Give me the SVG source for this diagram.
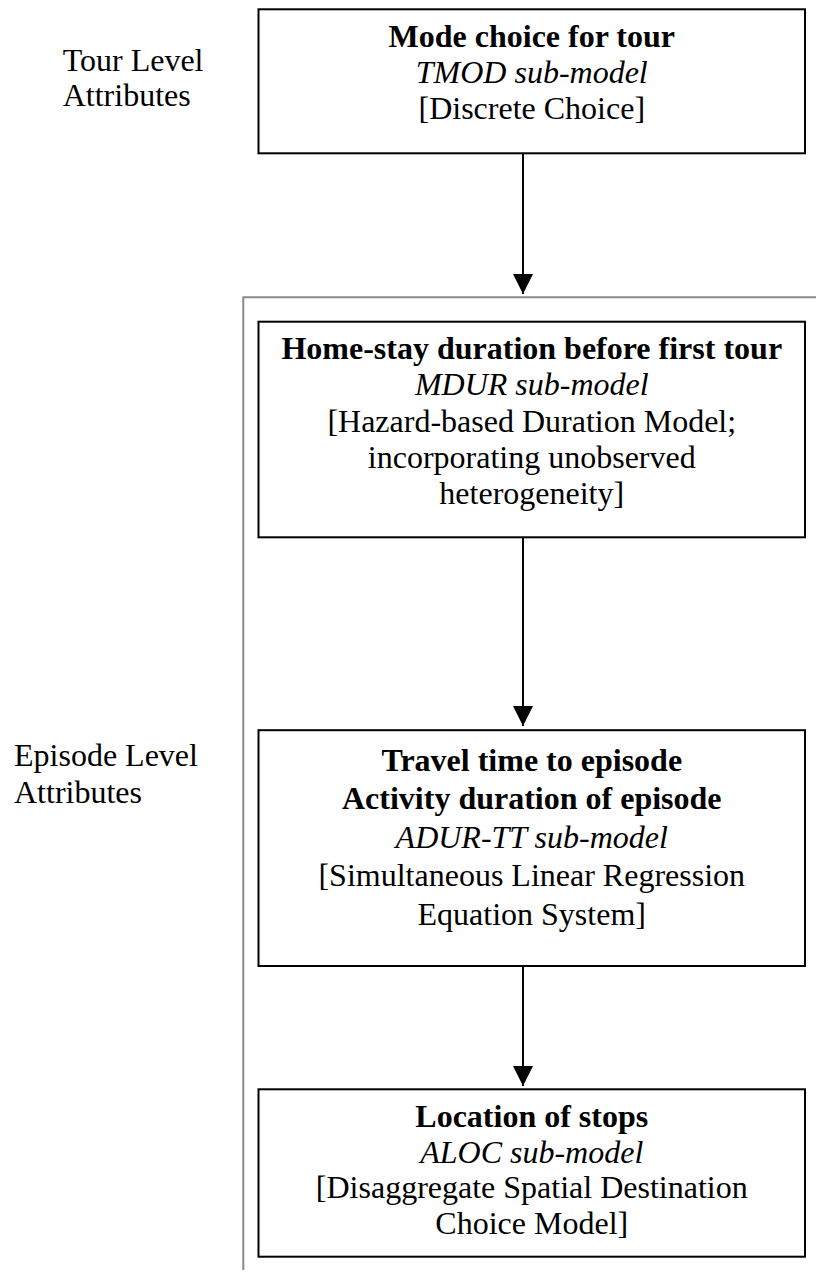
<svg xmlns="http://www.w3.org/2000/svg" width="816" height="1276" viewBox="0 0 816 1276">
<defs>
<style>
text{font-family:'Liberation Serif','DejaVu Serif',serif;font-size:32px;fill:#000}
.b{font-weight:bold}
.i{font-style:italic}
.c{text-anchor:middle}
.box{fill:#fff;stroke:#000;stroke-width:2}
.edge{stroke:#000;stroke-width:2;fill:none}
.grey{stroke:#8a8a8a;stroke-width:2;fill:none}
</style>
<marker id="ah" viewBox="0 0 20 20" refX="20" refY="10" markerWidth="20" markerHeight="20" markerUnits="userSpaceOnUse" orient="auto">
<path d="M0,0 L20,10 L0,20 Z" fill="#000"/>
</marker>
</defs>
<g font-family="Liberation Serif, DejaVu Serif, serif" font-size="32">
<g id="labels">
<text x="62.7" y="70.7">Tour Level</text>
<text x="62.7" y="105.5">Attributes</text>
<text x="14" y="766">Episode Level</text>
<text x="14" y="802.7">Attributes</text>
</g>
<g id="bracket">
<path class="grey" d="M243.3,1270 L243.3,297.3 L816,297.3"/>
</g>
<g id="connectors">
<path class="edge" d="M523,153.3 L523,294" marker-end="url(#ah)"/>
<path class="edge" d="M523,537.3 L523,726" marker-end="url(#ah)"/>
<path class="edge" d="M523,966 L523,1086" marker-end="url(#ah)"/>
</g>
<g id="tmod">
<rect class="box" x="258.5" y="9.3" width="546.5" height="144"/>
<text class="c b" x="531.75" y="46.7">Mode choice for tour</text>
<text class="c i" x="531.75" y="82.7">TMOD sub-model</text>
<text class="c" x="531.75" y="118.7">[Discrete Choice]</text>
</g>
<g id="mdur">
<rect class="box" x="258.5" y="321.7" width="546.5" height="215.6"/>
<text class="c b" x="531.75" y="359.1">Home-stay duration before first tour</text>
<text class="c i" x="531.75" y="395.3">MDUR sub-model</text>
<text class="c" x="531.75" y="431.5">[Hazard-based Duration Model;</text>
<text class="c" x="531.75" y="467.7">incorporating unobserved</text>
<text class="c" x="531.75" y="503.9">heterogeneity]</text>
</g>
<g id="adurtt">
<rect class="box" x="258.5" y="730.2" width="546.5" height="235.8"/>
<text class="c b" x="531.75" y="770.8">Travel time to episode</text>
<text class="c b" x="531.75" y="809.3">Activity duration of episode</text>
<text class="c i" x="531.75" y="847.8">ADUR-TT sub-model</text>
<text class="c" x="531.75" y="886.3">[Simultaneous Linear Regression</text>
<text class="c" x="531.75" y="924.8">Equation System]</text>
</g>
<g id="aloc">
<rect class="box" x="258.5" y="1089.3" width="546.5" height="167.4"/>
<text class="c b" x="531.75" y="1126.7">Location of stops</text>
<text class="c i" x="531.75" y="1162.5">ALOC sub-model</text>
<text class="c" x="531.75" y="1198.3">[Disaggregate Spatial Destination</text>
<text class="c" x="531.75" y="1234.1">Choice Model]</text>
</g>
</g>
</svg>
